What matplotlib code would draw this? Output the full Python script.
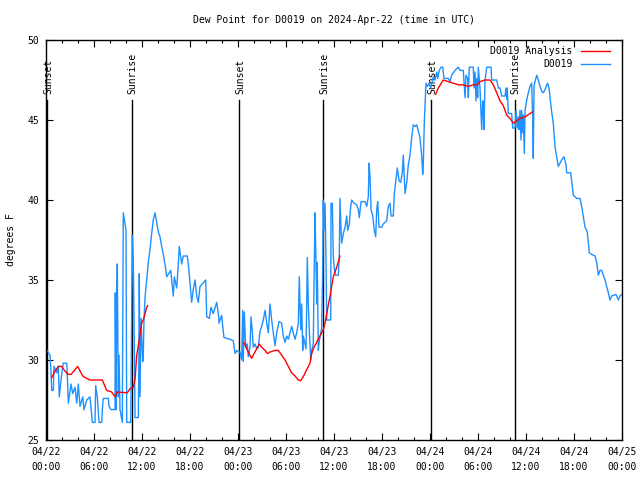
import numpy as np
import matplotlib
matplotlib.use("Agg")
import matplotlib.pyplot as plt
from matplotlib.ticker import MultipleLocator, FixedLocator

plt.rcParams['font.family'] = ['DejaVu Sans Mono']

title = "Dew Point for D0019 on 2024-Apr-22 (time in UTC)"
ylabel = "degrees F"

# hours since 2024-04-22 00:00 UTC, observed dew point (F)
obs_hours = [0.0, 0.5, 0.63, 0.71, 0.91, 1.0, 1.34, 1.54, 1.66, 1.88, 2.04, 2.16, 2.59, 2.71, 2.79,
             3.13, 3.34, 3.63, 3.84, 4.04, 4.25, 4.59, 4.75, 5.09, 5.5, 5.79, 6.13, 6.21, 6.41, 6.63,
             6.96, 7.04, 7.16, 7.79, 7.88, 8.13, 8.63, 8.66, 8.75, 8.84, 8.91, 9.04, 9.13, 9.25, 9.54,
             9.66, 9.88, 10.0, 10.09, 10.59, 10.69, 10.79, 10.91, 11.04, 11.13, 11.54, 11.63, 11.66,
             11.75, 11.88, 12.09, 12.16, 12.25, 12.38, 12.59, 12.79, 13.0, 13.21, 13.41, 13.63, 13.84,
             14.04, 14.25, 14.46, 14.66, 14.96, 15.09, 15.59, 15.91, 16.04, 16.34, 16.54, 16.66, 16.96,
             17.16, 17.66, 17.79, 18.0, 18.21, 18.41, 18.63, 18.84, 19.04, 19.25, 19.63, 19.96, 20.09,
             20.41, 20.63, 20.91, 21.34, 21.59, 21.63, 21.96, 22.09, 22.25, 23.0, 23.41, 23.63, 23.84,
             24.04, 24.25, 24.46, 24.59, 24.66, 24.79, 24.96, 25.16, 25.29, 25.5, 25.63, 25.79, 25.91,
             26.13, 26.34, 26.54, 26.75, 26.96, 27.16, 27.38, 27.59, 27.79, 28.0, 28.21, 28.41, 28.63,
             28.84, 29.13, 29.46, 29.66, 29.88, 30.09, 30.29, 30.5, 30.71, 30.91, 31.13, 31.34, 31.54,
             31.66, 31.84, 31.96, 32.09, 32.16, 32.38, 32.5, 32.59, 32.66, 32.79, 32.91, 33.09, 33.21,
             33.41, 33.5, 33.63, 33.71, 33.84, 33.91, 34.04, 34.16, 34.34, 34.46, 34.59, 34.66, 34.75,
             34.88, 35.0, 35.09, 35.59, 35.63, 35.79, 35.91, 36.04, 36.16, 36.54, 36.66, 36.75, 36.88,
             36.96, 37.16, 37.38, 37.59, 37.71, 37.91, 38.09, 38.21, 38.5, 38.84, 39.04, 39.16, 39.38,
             39.88, 40.09, 40.29, 40.38, 40.5, 40.63, 40.84, 41.04, 41.21, 41.34, 41.46, 41.63, 41.96,
             42.16, 42.38, 42.59, 42.79, 43.0, 43.13, 43.41, 43.54, 43.75, 43.91, 44.13, 44.34, 44.54,
             44.66, 44.88, 45.09, 45.29, 45.5, 45.71, 45.91, 46.13, 46.34, 46.54, 46.75, 46.96, 47.09,
             47.16, 47.29, 47.38, 47.5, 47.66, 47.88, 48.09, 48.41, 48.63, 48.84, 48.96, 49.16, 49.38,
             49.59, 49.75, 50.29, 50.5, 50.71, 51.13, 51.54, 51.75, 52.16, 52.38, 52.5, 52.71, 52.79,
             52.91, 53.41, 53.5, 53.63, 53.75, 53.84, 53.96, 54.04, 54.25, 54.46, 54.59, 54.66, 54.75,
             54.88, 55.09, 55.63, 55.71, 56.34, 56.54, 56.75, 56.96, 57.38, 57.5, 57.59, 57.66, 57.79,
             58.21, 58.34, 58.63, 58.75, 58.91, 59.04, 59.13, 59.25, 59.38, 59.46, 59.59, 59.66, 59.79,
             59.88, 60.09, 60.29, 60.5, 60.71, 60.84, 60.91, 61.0, 61.13, 61.34, 61.54, 61.75, 61.96,
             62.16, 62.38, 62.59, 62.71, 62.91, 63.0, 63.21, 63.41, 63.63, 63.84, 64.04, 64.25, 64.46,
             64.75, 65.0, 65.09, 65.59, 65.71, 65.91, 66.34, 66.75, 66.96, 67.16, 67.38, 67.66, 67.91,
             68.21, 68.63, 68.84, 69.04, 69.25, 69.46, 69.66, 69.88, 70.09, 70.29, 70.5, 70.71, 71.25,
             71.54, 71.75, 71.96]
obs_values = [30.7, 30.3, 29.2, 28.1, 28.1, 29.6, 29.2, 29.6, 27.7, 28.75, 29.4, 29.8, 29.8, 28.5, 27.3,
              28.5, 27.9, 28.3, 27.3, 28.5, 27.1, 27.7, 26.9, 27.5, 27.7, 26.1, 26.1, 28.4, 27.7, 26.1,
              26.1, 26.9, 27.6, 27.6, 27.1, 26.9, 26.9, 34.2, 26.9, 33.6, 36.0, 27.7, 30.3, 26.9, 26.1,
              39.2, 38.5, 38.1, 26.1, 26.1, 32.1, 37.8, 36.3, 30.9, 26.4, 26.4, 31.0, 35.4,
              27.7, 32.6, 29.9, 30.3, 32.5, 33.9, 35.0, 36.1, 36.9, 37.9, 38.75, 39.2, 38.6,
              38.0, 37.7, 37.1, 36.6, 35.7, 35.2, 35.6, 34.0, 35.2, 34.5, 36.0, 37.1, 36.0,
              36.5, 36.5, 36.0, 34.8, 33.6, 34.4, 35.0, 34.0, 33.6, 34.6, 34.8, 35.0, 32.7,
              32.6, 33.3, 32.9, 33.6, 32.7, 32.3, 32.8, 32.1, 31.4, 31.3, 31.2, 30.4, 30.6,
              30.5, 30.5, 30.0, 33.1, 29.9, 33.0, 30.8, 31.0, 30.2, 30.8, 32.7, 31.8, 30.8,
              31.0, 30.7, 30.8, 31.8, 32.1, 32.5, 33.1, 32.3, 31.7, 33.5, 32.5, 31.7, 30.9,
              31.7, 32.4, 32.3, 31.5, 31.1, 31.5, 31.3, 31.7, 32.1, 31.7, 31.3, 31.7, 32.3,
              35.2, 31.9, 33.5, 30.6, 31.5, 31.0, 30.7, 33.5, 36.4, 33.5, 31.9, 30.0, 30.6,
              31.0, 34.7, 39.2, 37.2, 33.5, 36.1, 30.6, 31.2, 31.7, 32.0, 35.8, 40.0, 38.1,
              39.8, 36.3, 32.5, 32.5, 39.8, 39.8, 36.5, 35.7, 35.3, 35.3, 36.5, 40.1, 38.1,
              37.3, 37.9, 38.3, 39.0, 38.1, 38.5, 39.6, 40.0, 39.8, 39.7, 39.4, 38.9, 39.9,
              39.9, 39.6, 40.2, 42.3, 41.5, 39.4, 39.0, 38.1, 37.7, 39.4, 39.9, 38.3, 38.3,
              38.5, 38.6, 38.7, 39.6, 39.8, 39.0, 39.0, 40.4, 41.3, 42.0, 41.2, 41.1, 41.7,
              42.8, 40.4, 41.1, 42.2, 42.8, 43.9, 44.7, 44.6, 44.7, 44.3, 43.9, 42.8, 41.6,
              42.2, 44.9, 45.9, 47.3, 47.1, 47.3, 47.0, 47.7, 47.5, 48.0, 47.6, 48.1, 48.3,
              48.3, 47.6, 47.6, 47.4, 47.8, 48.1, 48.3, 48.1, 48.1, 46.4, 47.8, 47.6, 46.4,
              48.3, 48.3, 47.0, 48.0, 46.2, 47.6, 46.4, 48.3, 47.0, 44.4, 46.2, 45.8, 44.4,
              47.5, 48.3, 48.3, 47.5, 47.5, 47.0, 47.0, 46.5, 46.5, 47.0, 46.3, 47.0, 45.4,
              45.4, 44.5, 44.5, 45.6, 44.5, 45.2, 44.4, 45.6, 43.75, 45.6, 44.2, 45.3, 42.9,
              45.6, 46.25, 46.7, 47.1, 47.3, 45.0, 42.6, 47.1, 47.4, 47.8, 47.5, 47.1, 46.8,
              46.7, 46.9, 47.2, 47.3, 46.9, 46.4, 45.5, 44.8, 43.3, 42.7, 42.1, 42.3, 42.5,
              42.7, 42.2, 41.7, 41.7, 41.2, 40.3, 40.1, 40.1, 39.6, 39.0, 38.3, 38.0, 36.7,
              36.6, 36.5, 36.1, 35.3, 35.6, 35.6, 35.3, 35.0, 34.6, 34.2, 33.75, 34.0, 34.1,
              33.75, 34.0, 34.1]

# analysis series (NaN separates the three daytime segments)
ana_hours = [0.71, 1.13, 1.54, 1.96, 2.38, 2.79, 3.13, 3.96, 4.59, 4.88, 5.5, 7.04, 7.59, 8.21, 8.63,
             8.91, 10.16, 10.5, 10.91, 11.13, 11.34, 11.54, 11.96, 12.16, 12.38, 12.59, 12.71,
             np.nan,
             24.75, 25.09, 25.38, 25.71, 26.0, 26.34, 26.66, 26.96, 27.38, 27.66, 28.0, 28.63, 29.04,
             29.46, 29.88, 30.29, 30.71, 31.13, 31.54, 31.84, 32.16, 32.59, 33.0, 33.21, 33.5, 33.84,
             34.25, 34.66, 34.88, 35.13, 35.5, 35.91, 36.34, 36.75,
             np.nan,
             48.71, 49.04, 49.66, 50.29, 50.91, 51.54, 52.16, 52.79, 53.41, 53.91, 54.25, 54.88, 55.5,
             55.91, 56.34, 56.75, 57.16, 57.59, 58.0, 58.41, 58.75, 59.25, 59.88, 60.5, 60.79]
ana_values = [28.9, 29.3, 29.6, 29.6, 29.3, 29.1, 29.1, 29.6, 29.0, 28.9, 28.75, 28.75, 28.1, 28.0, 27.7,
              28.0, 27.95, 28.2, 28.3, 28.8, 30.3, 30.9, 32.3, 32.5, 32.9, 33.3, 33.4,
              np.nan,
              31.1, 30.7, 30.4, 30.1, 30.4, 30.7, 31.0, 30.8, 30.6, 30.4, 30.5, 30.6, 30.6,
              30.3, 30.0, 29.6, 29.2, 29.0, 28.75, 28.7, 28.96, 29.4, 29.8, 30.4, 30.8, 31.1,
              31.5, 31.9, 32.3, 33.0, 34.0, 35.2, 35.8, 36.5,
              np.nan,
              46.6, 47.0, 47.5, 47.4, 47.3, 47.2, 47.2, 47.1, 47.2, 47.2, 47.4, 47.5, 47.5,
              47.2, 46.7, 46.2, 45.9, 45.3, 45.1, 44.8, 44.9, 45.1, 45.2, 45.4, 45.5]

sun_hours = [0.15, 10.7, 24.17, 34.68, 48.18, 58.6]
sun_labels = ["Sunset", "Sunrise", "Sunset", "Sunrise", "Sunset", "Sunrise"]
sun_line_top = 46.25

xtick_hours = [0, 6, 12, 18, 24, 30, 36, 42, 48, 54, 60, 66, 72]
xtick_labels = ["04/22\n00:00", "04/22\n06:00", "04/22\n12:00", "04/22\n18:00",
                "04/23\n00:00", "04/23\n06:00", "04/23\n12:00", "04/23\n18:00",
                "04/24\n00:00", "04/24\n06:00", "04/24\n12:00", "04/24\n18:00",
                "04/25\n00:00"]

fig = plt.figure(figsize=(6.4, 4.8), dpi=100)
ax = fig.add_axes([46/640, 40/480, 576/640, 400/480])

fs = 7

for h, lab in zip(sun_hours, sun_labels):
    ax.plot([h, h], [25, sun_line_top], color='black', lw=1.0, zorder=1)
    ax.text(h + 0.1, sun_line_top + 0.4, lab, rotation=90, ha='center', va='bottom',
            fontsize=fs, color='black', zorder=1)

ax.plot(ana_hours, ana_values, color='#ff0000', lw=1.0, label='D0019 Analysis', zorder=3)
ax.plot(obs_hours, obs_values, color='#1e90ff', lw=1.0, label='D0019', zorder=2)

ax.set_xlim(0, 72)
ax.set_ylim(25, 50)
ax.xaxis.set_major_locator(FixedLocator(xtick_hours))
ax.set_xticklabels(xtick_labels, linespacing=1.65)
ax.xaxis.set_minor_locator(MultipleLocator(2))
ax.yaxis.set_major_locator(MultipleLocator(5))
ax.tick_params(axis='both', which='major', direction='in', length=5, width=0.8,
               top=True, right=True, labelsize=fs, pad=5)
ax.tick_params(axis='x', which='minor', direction='in', length=2.5, width=0.8, top=True)
for s in ax.spines.values():
    s.set_linewidth(1.0)

ax.set_title(title, fontsize=fs, pad=12)
fig.text(11/640, 0.5, ylabel, rotation=90, ha='center', va='center', fontsize=fs)

leg = ax.legend(loc='upper right', bbox_to_anchor=(0.986, 0.995), frameon=False, fontsize=fs,
                markerfirst=False, handlelength=2.9, borderaxespad=0.15, labelspacing=0.3,
                handletextpad=0.9, borderpad=0.3)

fig.savefig('out.png', dpi=100)
